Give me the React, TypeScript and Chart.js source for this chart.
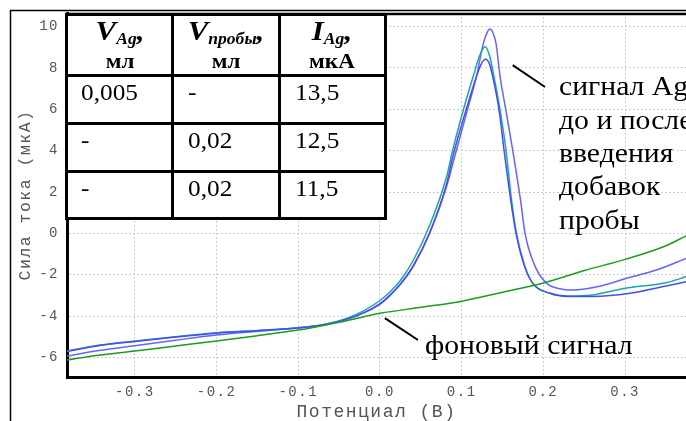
import React, { useEffect, useRef } from "react";
import { Chart, registerables } from "chart.js";

Chart.register(...registerables);

// ---- Data (potential in V, current in µA) ----
// Ag signal 1 (highest peak)
const potentialA = [-0.383, -0.35, -0.3, -0.25, -0.2, -0.15, -0.1, -0.07, -0.04, -0.02, 0.0, 0.0122, 0.025, 0.041, 0.061, 0.0816, 0.093, 0.107, 0.118, 0.1265, 0.131, 0.1347, 0.138, 0.142, 0.147, 0.154, 0.1624, 0.172, 0.1775, 0.19, 0.204, 0.22, 0.236, 0.27, 0.3, 0.34, 0.3745];
const currentA = [-5.94, -5.7, -5.44, -5.17, -4.92, -4.74, -4.57, -4.42, -4.15, -3.85, -3.4, -3.0, -2.47, -1.58, 0.02, 2.28, 3.95, 5.97, 7.58, 9.19, 9.7, 9.88, 9.72, 9.19, 7.58, 5.97, 4.03, 1.61, 0.0, -1.61, -2.42, -2.68, -2.74, -2.55, -2.2, -1.75, -1.21];

// Ag signal 2 (teal)
const potentialB = [-0.383, -0.35, -0.3, -0.25, -0.2, -0.15, -0.1, -0.07, -0.04, -0.02, 0.0, 0.0122, 0.025, 0.041, 0.061, 0.0816, 0.0885, 0.102, 0.114, 0.122, 0.1285, 0.134, 0.1395, 0.1469, 0.1542, 0.161, 0.167, 0.1775, 0.187, 0.208, 0.2285, 0.26, 0.3, 0.35, 0.3745];
const currentB = [-5.69, -5.45, -5.21, -5.0, -4.81, -4.7, -4.57, -4.42, -4.1, -3.75, -3.25, -2.84, -2.28, -1.29, 0.4, 2.75, 3.95, 5.97, 7.58, 8.6, 9.03, 8.6, 7.58, 5.97, 4.03, 1.61, 0.0, -1.61, -2.42, -2.9, -3.03, -2.98, -2.66, -2.39, -2.1];

// Ag signal 3 (lowest peak)
const potentialC = [-0.383, -0.35, -0.3, -0.25, -0.2, -0.15, -0.1, -0.07, -0.04, -0.02, 0.0, 0.0122, 0.025, 0.041, 0.061, 0.0816, 0.0897, 0.1053, 0.118, 0.124, 0.129, 0.134, 0.138, 0.1457, 0.1518, 0.16, 0.1665, 0.177, 0.187, 0.208, 0.23, 0.26, 0.31, 0.35, 0.3745];
const currentC = [-5.72, -5.47, -5.23, -5.02, -4.83, -4.71, -4.58, -4.43, -4.15, -3.85, -3.42, -3.0, -2.45, -1.55, 0.05, 2.4, 3.8, 5.97, 7.58, 8.2, 8.42, 8.2, 7.58, 5.97, 4.03, 1.61, 0.0, -1.61, -2.42, -2.9, -3.05, -3.05, -2.87, -2.55, -2.34];

// Background signal (green)
const potentialBg = [-0.383, -0.35, -0.3, -0.25, -0.2, -0.15, -0.1, -0.05, 0.0, 0.05, 0.1, 0.15, 0.2, 0.25, 0.3, 0.35, 0.3745];
const currentBg = [-6.13, -5.92, -5.69, -5.45, -5.21, -4.95, -4.68, -4.3, -3.87, -3.58, -3.28, -2.85, -2.4, -1.8, -1.26, -0.6, -0.12];

// Axis settings
const X_MIN = -0.383;
const X_MAX = 0.3745;
const Y_MIN = -6.95;
const Y_MAX = 10.66;
const X_STEP = 0.1;
const Y_STEP = 2;

const xTitle = "Потенциал (В)";
const yTitle = "Сила тока (мкА)";

// Table contents
const colVAg = ["0,005", "-", "-"];
const colVProby = ["-", "0,02", "0,02"];
const colIAg = ["13,5", "12,5", "11,5"];

// Annotations
const signalLabel = ["сигнал Ag", "до и после", "введения", "добавок", "пробы"];
const bgLabel = "фоновый сигнал";
// leader lines in data coordinates [x1, y1, x2, y2]
const leaderSignal = [0.1624, 8.14, 0.202, 7.08];
const leaderBg = [0.006, -4.1, 0.0465, -5.16];

const toPts = (xs: number[], ys: number[]) => xs.map((x, i) => ({ x, y: ys[i] }));

const tickFont = { family: "'Liberation Mono', monospace", size: 14 };

export default function App() {
  const ref = useRef<HTMLCanvasElement>(null);

  useEffect(() => {
    const canvas = ref.current;
    if (!canvas) return;

    const decor = {
      id: "decor",
      beforeDraw(chart: any) {
        (chart.ctx as any).letterSpacing = "1.5px";
      },
      afterDraw(chart: any) {
        const { ctx, chartArea, scales } = chart;
        const xs = scales.x;
        const ys = scales.y;
        (ctx as any).letterSpacing = "0px";
        ctx.save();
        ctx.strokeStyle = "#000";
        // outer frame
        ctx.lineWidth = 1.5;
        ctx.beginPath();
        ctx.moveTo(10.5, 421);
        ctx.lineTo(10.5, 10.5);
        ctx.lineTo(686, 10.5);
        ctx.stroke();
        // top border of plot
        ctx.lineWidth = 2.5;
        ctx.beginPath();
        ctx.moveTo(chartArea.left - 1, chartArea.top + 1);
        ctx.lineTo(chartArea.right, chartArea.top + 1);
        ctx.stroke();
        // leader lines
        ctx.lineWidth = 2;
        for (const seg of [leaderSignal, leaderBg]) {
          ctx.beginPath();
          ctx.moveTo(xs.getPixelForValue(seg[0]), ys.getPixelForValue(seg[1]));
          ctx.lineTo(xs.getPixelForValue(seg[2]), ys.getPixelForValue(seg[3]));
          ctx.stroke();
        }
        ctx.restore();
      },
    };

    const chart = new Chart(canvas, {
      type: "line",
      data: {
        datasets: [
          {
            label: "фон",
            data: toPts(potentialBg, currentBg),
            borderColor: "#1c9c1c",
          },
          {
            label: "Ag 3",
            data: toPts(potentialC, currentC),
            borderColor: "#4b4bf2",
          },
          {
            label: "Ag 2",
            data: toPts(potentialB, currentB),
            borderColor: "#1aa6a6",
          },
          {
            label: "Ag 1",
            data: toPts(potentialA, currentA),
            borderColor: "#6464ff",
          },
        ] as any,
      },
      options: {
        animation: false,
        responsive: false,
        devicePixelRatio: 1,
        layout: { padding: { top: 13, left: 0, right: 0, bottom: 0 } },
        plugins: { legend: { display: false }, tooltip: { enabled: false } },
        elements: {
          point: { radius: 0 },
          line: { borderWidth: 1.5, cubicInterpolationMode: "monotone", fill: false },
        },
        scales: {
          x: {
            type: "linear",
            min: X_MIN,
            max: X_MAX,
            ticks: {
              stepSize: X_STEP,
              includeBounds: false,
              autoSkip: false,
              maxRotation: 0,
              padding: 7,
              color: "#555",
              font: tickFont,
              callback: (v: any) => Number(v).toFixed(1),
            },
            grid: { color: "#cccccc", drawTicks: false, lineWidth: 1 },
            border: { display: true, color: "#000", width: 3, dash: [2, 2] },
            title: {
              display: true,
              text: xTitle,
              color: "#555",
              font: { family: "'Liberation Mono', monospace", size: 18, lineHeight: 1 },
              padding: { top: 0, bottom: 0 },
            },
            afterFit: (s: any) => {
              s.height = 44;
              s.paddingLeft = 0;
              s.paddingRight = 0;
            },
          },
          y: {
            type: "linear",
            min: Y_MIN,
            max: Y_MAX,
            ticks: {
              stepSize: Y_STEP,
              includeBounds: false,
              padding: 8,
              color: "#555",
              font: tickFont,
              callback: (v: any) => String(Math.round(Number(v))),
            },
            grid: { color: "#cccccc", drawTicks: false, lineWidth: 1 },
            border: { display: true, color: "#000", width: 3, dash: [2, 2] },
            title: {
              display: true,
              text: yTitle,
              color: "#555",
              font: { family: "'Liberation Mono', monospace", size: 16.5, lineHeight: 1.2 },
              padding: { top: 16, bottom: 0 },
            },
            afterFit: (s: any) => {
              s.width = 67;
              s.paddingTop = 0;
              s.paddingBottom = 0;
            },
          },
        },
      } as any,
      plugins: [decor as any],
    });
    return () => chart.destroy();
  }, []);

  const serif = "'Liberation Serif', 'Times New Roman', serif";
  const colX = [66.5, 172.8, 279.5, 385];
  const rowY = [14, 75.7, 123.3, 171, 218.5];
  const lineW = 3;
  const rowBase = [100, 148.3, 196];
  const cellLeft = [81, 188, 295];
  const rowFont = 23;
  const hdrCenters = [0, 1, 2].map((i) => (colX[i] + colX[i + 1]) / 2);
  const hdrW = 104;
  const stretch = 1.1;

  const text = (key: string, left: number, baseline: number, size: number, content: any, extra: any = {}) => (
    <div
      key={key}
      style={{
        position: "absolute",
        left,
        top: baseline - 0.8375 * size,
        fontFamily: serif,
        fontSize: size,
        lineHeight: 1,
        whiteSpace: "pre",
        color: "#000",
        transform: `scaleX(${stretch})`,
        transformOrigin: "left center",
        ...extra,
      }}
    >
      {content}
    </div>
  );

  const sub = (s: string) => (
    <span style={{ fontSize: 16, verticalAlign: "-3.5px" }}>{s}</span>
  );

  const hdr1 = [
    <>V{sub("Ag")},</>,
    <>V{sub("пробы")},</>,
    <>I{sub("Ag")},</>,
  ];
  const hdr2 = ["мл", "мл", "мкА"];

  return (
    <div
      style={{
        position: "fixed",
        left: 0,
        top: 0,
        width: 686,
        height: 421,
        overflow: "hidden",
        background: "#fff",
      }}
    >
      <canvas ref={ref} width={686} height={421} style={{ position: "absolute", left: 0, top: 0, width: 686, height: 421 }} />
      {/* table */}
      <div
        style={{
          position: "absolute",
          left: colX[0] - lineW / 2,
          top: rowY[0] - lineW / 2,
          width: colX[3] - colX[0] + lineW,
          height: rowY[4] - rowY[0] + lineW,
          background: "#fff",
        }}
      />
      {colX.map((x, i) => (
        <div
          key={"v" + i}
          style={{
            position: "absolute",
            left: x - lineW / 2,
            top: rowY[0] - lineW / 2,
            width: lineW,
            height: rowY[4] - rowY[0] + lineW,
            background: "#000",
          }}
        />
      ))}
      {rowY.map((y, i) => (
        <div
          key={"h" + i}
          style={{
            position: "absolute",
            left: colX[0] - lineW / 2,
            top: y - lineW / 2,
            width: colX[3] - colX[0] + lineW,
            height: lineW,
            background: "#000",
          }}
        />
      ))}
      {hdr1.map((c, i) =>
        text("h1" + i, hdrCenters[i] - hdrW / 2, 40.3, 28, c, {
          width: hdrW,
          textAlign: "center",
          fontWeight: "bold",
          fontStyle: "italic",
          transformOrigin: "center center",
        })
      )}
      {hdr2.map((c, i) =>
        text("h2" + i, hdrCenters[i] - hdrW / 2, 68.7, 21, c, {
          width: hdrW,
          textAlign: "center",
          fontWeight: "bold",
          transformOrigin: "center center",
        })
      )}
      {[colVAg, colVProby, colIAg].map((col, ci) =>
        col.map((v, ri) => text("c" + ci + ri, cellLeft[ci], rowBase[ri], rowFont, v))
      )}
      {/* annotations */}
      {signalLabel.map((s, i) => text("s" + i, 559, 96 + i * 33.3, 27, s))}
      {text("bg", 425, 355, 27, bgLabel)}
    </div>
  );
}
